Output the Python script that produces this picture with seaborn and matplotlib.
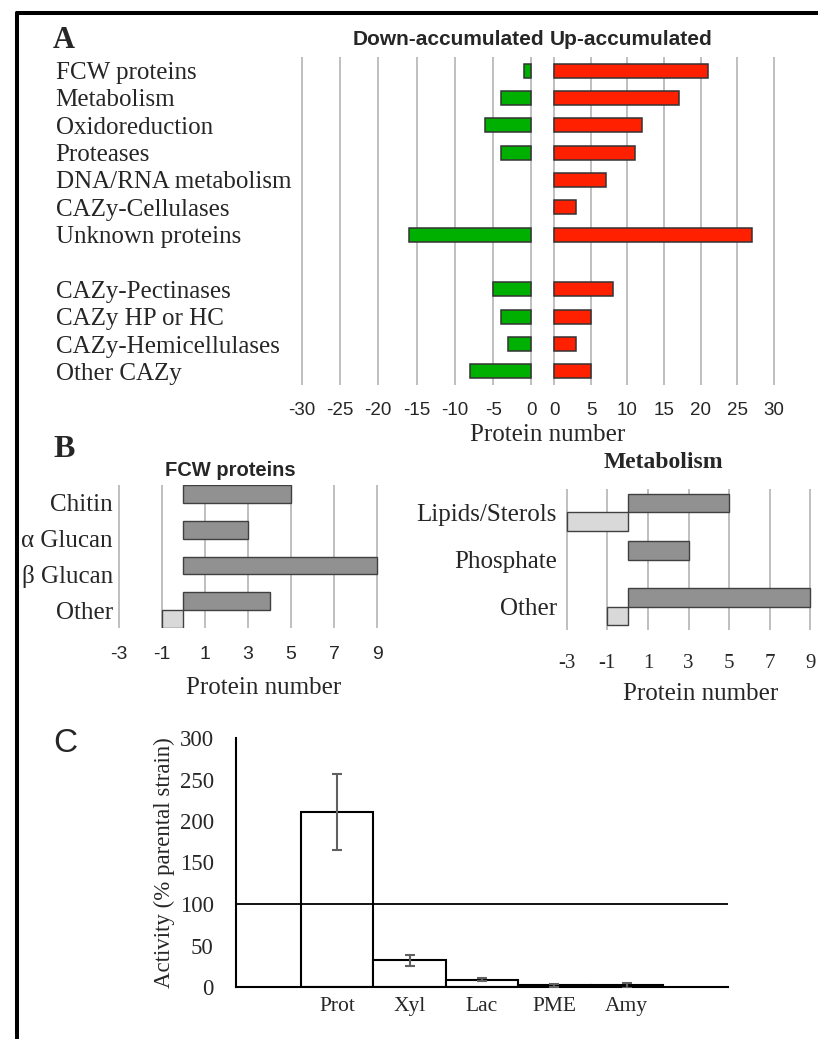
import numpy as np
import pandas as pd
import seaborn as sns
import matplotlib.pyplot as plt
from matplotlib.lines import Line2D

# Panel A: protein categories ("" is the spacer row between the two groups)
categories_a = ["FCW proteins", "Metabolism", "Oxidoreduction", "Proteases",
                "DNA/RNA metabolism", "CAZy-Cellulases", "Unknown proteins", "",
                "CAZy-Pectinases", "CAZy HP or HC", "CAZy-Hemicellulases", "Other CAZy"]
down_a = [1, 4, 6, 4, 0, 0, 16, 0, 5, 4, 3, 8]
up_a = [21, 17, 12, 11, 7, 3, 27, 0, 8, 5, 3, 5]
ticks_down = [-30, -25, -20, -15, -10, -5, 0]
ticks_up = [0, 5, 10, 15, 20, 25, 30]

# Panel B: FCW proteins and metabolism detail
fcw_cats = ["Chitin", "α Glucan", "β Glucan", "Other"]
fcw_up = [5, 3, 9, 4]
fcw_down = [0, 0, 0, 1]
met_cats = ["Lipids/Sterols", "Phosphate", "Other"]
met_up = [5, 3, 9]
met_down = [3, 0, 1]
ticks_b = [-3, -1, 1, 3, 5, 7, 9]

# Panel C: enzyme activities
enzymes = ["Prot", "Xyl", "Lac", "PME", "Amy"]
activity = [211, 32, 9, 2, 2]
activity_err = [46, 7, 2, 1.5, 3]
ticks_c = [0, 50, 100, 150, 200, 250, 300]

sns.set_style("white")
SERIF = "Liberation Serif"
SANS = "Liberation Sans"
plt.rcParams["font.family"] = [SERIF, "DejaVu Serif"]
GRID = "#bfbfbf"

W, H = 818, 1039
fig = plt.figure(figsize=(W / 100, H / 100), dpi=100)


def box(x0, y0, x1, y1):
    # pixel box -> figure fraction
    return [x0 / W, 1 - y1 / H, (x1 - x0) / W, (y1 - y0) / H]


def clean(ax):
    for s in ax.spines.values():
        s.set_visible(False)
    ax.set_xlabel("")
    ax.set_ylabel("")
    ax.grid(axis="x", color=GRID, lw=1.4)
    ax.grid(axis="y", visible=False)
    ax.set_axisbelow(True)


# ---------------- Panel A ----------------
df_a = pd.DataFrame({"category": categories_a, "down": down_a, "up": up_a})
dn = df_a[df_a["down"] > 0]
upd = df_a[df_a["up"] > 0]

axL = fig.add_axes(box(300, 57, 533, 385))
axR = fig.add_axes(box(553, 57, 775, 385))
sns.barplot(x=-dn["down"], y=dn["category"], order=categories_a, color="#00b000",
            saturation=1, edgecolor="#333333", linewidth=1.1, width=0.52, ax=axL)
sns.barplot(x=upd["up"], y=upd["category"], order=categories_a, color="#ff2000",
            saturation=1, edgecolor="#333333", linewidth=1.1, width=0.52, ax=axR)

for ax, ticks in [(axL, ticks_down), (axR, ticks_up)]:
    clean(ax)
    ax.set_xlim(ticks[0] - 0.2, ticks[-1] + 0.2)
    ax.set_xticks(ticks)
    ax.set_xticklabels([str(t) for t in ticks], fontfamily=SANS, fontsize=13.5)
    ax.tick_params(axis="x", length=0, pad=12)

axL.tick_params(axis="y", length=0, pad=176)
axL.set_yticks(range(len(categories_a)))
axL.set_yticklabels(categories_a, fontfamily=SERIF, fontsize=18, ha="left")
axR.tick_params(axis="y", left=False, labelleft=False)

fig.text(53 / W, 1 - 48 / H, "A", fontfamily=SERIF, fontweight="bold", fontsize=22, va="baseline")
fig.text(544 / W, 1 - 45 / H, "Down-accumulated", fontfamily=SANS, fontweight="bold",
         fontsize=15, ha="right", va="baseline")
fig.text(550 / W, 1 - 45 / H, "Up-accumulated", fontfamily=SANS, fontweight="bold",
         fontsize=15, ha="left", va="baseline")
fig.text(548 / W, 1 - 435 / H, "Protein number", fontfamily=SERIF, fontsize=18,
         ha="center", va="center")

# ---------------- Panel B ----------------
pal_b = {"up": "#919191", "down": "#d9d9d9"}


def long_df(cats, up, down):
    d = pd.DataFrame({"category": cats * 2,
                      "count": list(up) + [-v for v in down],
                      "direction": ["up"] * len(cats) + ["down"] * len(cats)})
    return d[d["count"] != 0]


axB1 = fig.add_axes(box(117, 485, 379, 628))
sns.barplot(data=long_df(fcw_cats, fcw_up, fcw_down), x="count", y="category",
            hue="direction", order=fcw_cats, hue_order=["up", "down"], palette=pal_b,
            width=1.0, dodge=True, saturation=1, edgecolor="#404040", linewidth=1,
            legend=False, ax=axB1)

axB2 = fig.add_axes(box(565, 489, 812, 630))
sns.barplot(data=long_df(met_cats, met_up, met_down), x="count", y="category",
            hue="direction", order=met_cats, hue_order=["up", "down"], palette=pal_b,
            width=0.8, dodge=True, saturation=1, edgecolor="#404040", linewidth=1,
            legend=False, ax=axB2)

for ax in (axB1, axB2):
    clean(ax)
    ax.set_xlim(ticks_b[0] - 0.08, ticks_b[-1] + 0.08)
    ax.set_xticks(ticks_b)

axB1.set_xticklabels([str(t) for t in ticks_b], fontfamily=SANS, fontsize=14)
axB1.tick_params(axis="x", length=0, pad=13)
axB1.tick_params(axis="y", length=0, pad=3)
axB1.set_yticks(range(len(fcw_cats)))
axB1.set_yticklabels(fcw_cats, fontfamily=SERIF, fontsize=18)

axB2.set_xticklabels([str(t) for t in ticks_b], fontfamily=SERIF, fontsize=15)
axB2.tick_params(axis="x", length=0, pad=17)
axB2.tick_params(axis="y", length=0, pad=6)
axB2.set_yticks(range(len(met_cats)))
axB2.set_yticklabels(met_cats, fontfamily=SERIF, fontsize=18)

fig.text(53 / W, 1 - 457 / H, "B", fontfamily=SERIF, fontweight="bold", fontsize=23, va="baseline")
fig.text(230 / W, 1 - 470 / H, "FCW proteins", fontfamily=SANS, fontweight="bold",
         fontsize=14.5, ha="center", va="center")
fig.text(663 / W, 1 - 463 / H, "Metabolism", fontfamily=SERIF, fontweight="bold",
         fontsize=17, ha="center", va="center")
fig.text(264 / W, 1 - 688 / H, "Protein number", fontfamily=SERIF, fontsize=18,
         ha="center", va="center")
fig.text(701 / W, 1 - 694 / H, "Protein number", fontfamily=SERIF, fontsize=18,
         ha="center", va="center")

# ---------------- Panel C ----------------
axC = fig.add_axes(box(236, 738, 728, 987))
sns.barplot(x=enzymes, y=activity, color="white", saturation=1, edgecolor="black",
            linewidth=1.5, width=1.0, ax=axC)
axC.errorbar(np.arange(len(enzymes)), activity, yerr=activity_err, fmt="none",
             ecolor="#606060", elinewidth=1.5, capsize=3.3, capthick=1.5, zorder=3)
axC.axhline(100, color="black", lw=1.3, zorder=4)
axC.set_xlim(-1.4, len(enzymes) - 1 + 1.4)
axC.set_ylim(ticks_c[0], ticks_c[-1])
axC.set_yticks(ticks_c)
axC.set_yticklabels([str(t) for t in ticks_c], fontfamily=SERIF, fontsize=16.5)
axC.set_xticklabels(enzymes, fontfamily=SERIF, fontsize=15.5)
axC.tick_params(axis="x", length=0, pad=7)
axC.tick_params(axis="y", direction="in", length=4.5, width=1.3, pad=16)
for s in ["top", "right"]:
    axC.spines[s].set_visible(False)
for s in ["left", "bottom"]:
    axC.spines[s].set_color("black")
    axC.spines[s].set_linewidth(1.5)
axC.set_xlabel("")
axC.set_ylabel("Activity (% parental strain)", fontfamily=SERIF, fontsize=16.5, labelpad=3)

fig.text(53 / W, 1 - 752 / H, "C", fontfamily=SANS, fontsize=24, va="baseline")

# frame lines on the left and top
fig.add_artist(Line2D([17 / W, 17 / W], [0, 1 - 13 / H], transform=fig.transFigure,
                      color="black", lw=2.9))
fig.add_artist(Line2D([17 / W, 1], [1 - 13 / H, 1 - 13 / H], transform=fig.transFigure,
                      color="black", lw=2.9))

fig.savefig("out.png", dpi=100)
